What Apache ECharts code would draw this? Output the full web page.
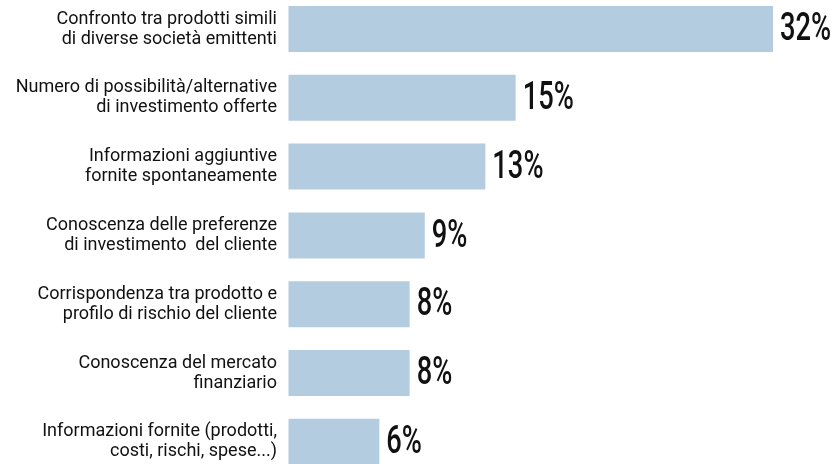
<!DOCTYPE html>
<html>
<head>
<meta charset="utf-8">
<script src="https://cdn.jsdelivr.net/npm/echarts@6/dist/echarts.min.js"></script>
<style>
html,body{margin:0;padding:0;background:#fff;overflow:hidden;}
#chart{position:absolute;left:0;top:-6px;width:835px;height:490px;}
</style>
</head>
<body>
<div id="chart"></div>
<script>
const categories = [
  "Confronto tra prodotti simili\ndi diverse società emittenti",
  "Numero di possibilità/alternative\ndi investimento offerte",
  "Informazioni aggiuntive\nfornite spontaneamente",
  "Conoscenza delle preferenze\ndi investimento  del cliente",
  "Corrispondenza tra prodotto e\nprofilo di rischio del cliente",
  "Conoscenza del mercato\nfinanziario",
  "Informazioni fornite (prodotti,\ncosti, rischi, spese...)"
];
const values = [32, 15, 13, 9, 8, 8, 6];

const chart = echarts.init(document.getElementById('chart'), null, {renderer: 'canvas'});
chart.setOption({
  animation: false,
  grid: {left: 288.5, width: 530, top: 0.6, height: 481.6},
  xAxis: {type: 'value', min: 0, max: 35, show: false},
  yAxis: {
    type: 'category', inverse: true, data: categories,
    axisLine: {show: false}, axisTick: {show: false},
    axisLabel: {
      margin: 11.5, align: 'right',
      fontFamily: 'Roboto', fontSize: 18, lineHeight: 20, color: '#111'
    }
  },
  series: [{
    type: 'bar',
    data: values,
    barWidth: 46,
    itemStyle: {color: '#b4cce0'}
  }, {
    type: 'custom',
    data: values.map((v, i) => [v, i]),
    encode: {x: 0, y: 1},
    renderItem: function (params, api) {
      const pt = api.coord([api.value(0), api.value(1)]);
      return {
        type: 'text',
        x: pt[0] + 7,
        y: pt[1] + 1.5,
        scaleX: 0.7,
        style: {
          text: api.value(0) + '%',
          fontFamily: 'Roboto', fontWeight: 500, fontSize: 39,
          fill: '#111', align: 'left', verticalAlign: 'middle'
        }
      };
    }
  }]
});
</script>
</body>
</html>
